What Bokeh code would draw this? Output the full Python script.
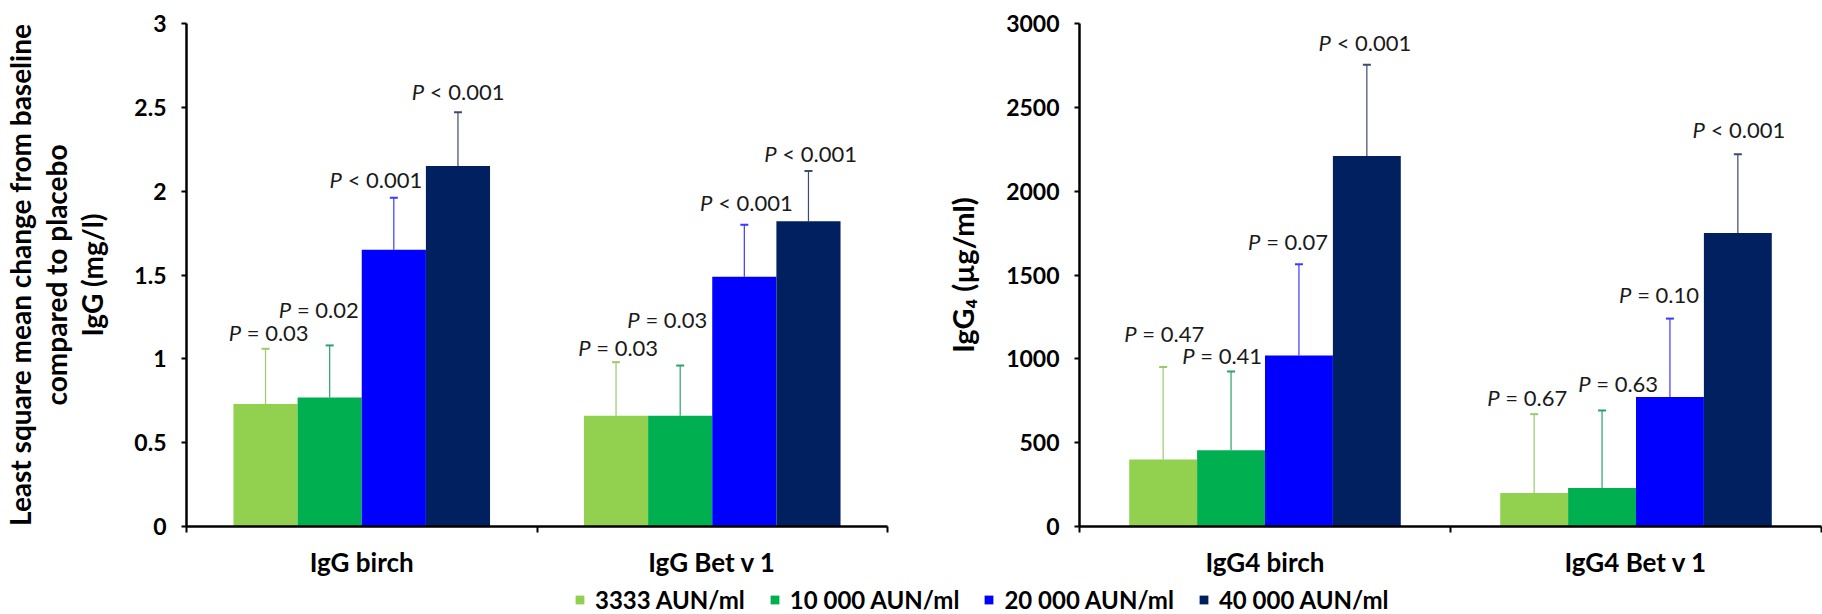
from bokeh.plotting import figure
from bokeh.models import (ColumnDataSource, Range1d, FixedTicker, Whisker, TeeHead,
                          Legend, LegendItem, NumeralTickFormatter, Title)
from bokeh.layouts import column, row
from bokeh.core.properties import value
from bokeh.embed import file_html
from bokeh.resources import INLINE

# ---------------- data ----------------
doses = ["3333 AUN/ml", "10 000 AUN/ml", "20 000 AUN/ml", "40 000 AUN/ml"]

igg_groups = ["IgG birch", "IgG Bet v 1"]
igg_mean_3333 = [0.73, 0.66]
igg_mean_10000 = [0.77, 0.66]
igg_mean_20000 = [1.65, 1.49]
igg_mean_40000 = [2.15, 1.82]
igg_upper_3333 = [1.06, 0.98]
igg_upper_10000 = [1.08, 0.96]
igg_upper_20000 = [1.96, 1.80]
igg_upper_40000 = [2.47, 2.12]
igg_p_3333 = ["= 0.03", "= 0.03"]
igg_p_10000 = ["= 0.02", "= 0.03"]
igg_p_20000 = ["< 0.001", "< 0.001"]
igg_p_40000 = ["< 0.001", "< 0.001"]

igg4_groups = ["IgG4 birch", "IgG4 Bet v 1"]
igg4_mean_3333 = [400, 200]
igg4_mean_10000 = [455, 230]
igg4_mean_20000 = [1020, 773]
igg4_mean_40000 = [2210, 1750]
igg4_upper_3333 = [951, 670]
igg4_upper_10000 = [925, 692]
igg4_upper_20000 = [1564, 1240]
igg4_upper_40000 = [2754, 2220]
igg4_p_3333 = ["= 0.47", "= 0.67"]
igg4_p_10000 = ["= 0.41", "= 0.63"]
igg4_p_20000 = ["= 0.07", "= 0.10"]
igg4_p_40000 = ["< 0.001", "< 0.001"]

igg_yticks = [0, 0.5, 1, 1.5, 2, 2.5, 3]
igg4_yticks = [0, 500, 1000, 1500, 2000, 2500, 3000]

igg_title_lines = ["Least square mean change from baseline", "compared to placebo", "IgG (mg/l)"]
igg4_title = "IgG\u2084 (\u00b5g/ml)"

# ---------------- styling / layout ----------------
FONT = "Lato"
colors = ["#92d050", "#00b050", "#0000ff", "#002060"]
err_colors = ["#9cc96b", "#2aa36a", "#3a3aff", "#3a4a70"]
BAR_W = 0.183
offsets = [-1.5 * BAR_W, -0.5 * BAR_W, 0.5 * BAR_W, 1.5 * BAR_W]
P_FS = 22
CHAR_W = {" ": 0.2, "=": 0.58, "<": 0.58, ".": 0.25}
P_W = 0.62 * P_FS
GAP = 0.26 * P_FS

# per-label nudges (dx px, dy px above error-bar top), [dose][group]
igg_nudge = [[(2, 16), (1, 15)], [(-12, 36), (-14, 46)], [(-19, 18), (1, 22)], [(-1, 21), (1, 18)]]
igg4_nudge = [[(0, 34), (-8, 17)], [(-10, 16), (15, 27)], [(-12, 23), (-12, 24)], [(-3, 22), (0, 25)]]


def text_w(s):
    return sum(CHAR_W.get(c, 0.58) for c in s) * P_FS


def make_chart(groups, means, uppers, pvals, nudges, ymax, yticks, ylabel, fmt,
               width, height, bl, br, bt, bb, label_standoff, label_fs):
    p = figure(width=width, height=height, x_range=Range1d(0, len(groups)),
               y_range=Range1d(0, ymax), output_backend="svg", toolbar_location=None,
               min_border_left=bl, min_border_right=br, min_border_top=bt,
               min_border_bottom=bb)
    p.outline_line_color = None
    p.grid.visible = False
    p.background_fill_color = "white"

    for i in range(len(doses)):
        xs = [g + 0.5 + offsets[i] for g in range(len(groups))]
        xo_p, xo_r, yo = [], [], []
        for g in range(len(groups)):
            dx, dy = nudges[i][g]
            total = P_W + GAP + text_w(pvals[i][g])
            b = dx - total / 2 + P_W
            xo_p.append(b)
            xo_r.append(b + GAP)
            yo.append(-dy)
        src = ColumnDataSource(dict(x=xs, top=means[i], up=uppers[i],
                                    pt=["P"] * len(groups), rest=pvals[i],
                                    xop=xo_p, xor=xo_r, yo=yo))
        p.vbar(x="x", top="top", bottom=0, width=BAR_W, source=src,
               fill_color=colors[i], line_color=None)
        p.add_layout(Whisker(source=src, base="x", lower="top", upper="up",
                             line_color=err_colors[i], line_width=1.2,
                             upper_head=TeeHead(size=8, line_color=err_colors[i], line_width=2),
                             lower_head=None))
        p.text(x="x", y="up", text="pt", source=src, text_font=value(FONT),
               text_font_style="italic", text_font_size=f"{P_FS}px", text_color="#1a1a1a",
               text_align="right", text_baseline="middle", x_offset="xop", y_offset="yo")
        p.text(x="x", y="up", text="rest", source=src, text_font=value(FONT),
               text_font_size=f"{P_FS}px", text_color="#1a1a1a",
               text_align="left", text_baseline="middle", x_offset="xor", y_offset="yo")

    yax = p.yaxis[0]
    yax.ticker = FixedTicker(ticks=yticks)
    yax.formatter = NumeralTickFormatter(format=fmt)
    yax.axis_line_width = 2.5
    yax.axis_line_color = "black"
    yax.major_tick_line_width = 2
    yax.major_tick_out = 5
    yax.major_tick_in = 0
    yax.minor_tick_line_color = None
    yax.major_label_text_font = FONT
    yax.major_label_text_font_style = "bold"
    yax.major_label_text_font_size = "23px"
    yax.major_label_text_color = "black"
    yax.major_label_standoff = 15
    yax.axis_label = ylabel
    yax.axis_label_text_font = FONT
    yax.axis_label_text_font_style = "bold"
    yax.axis_label_text_font_size = f"{label_fs}px"
    yax.axis_label_text_color = "black"
    yax.axis_label_standoff = label_standoff

    xax = p.xaxis[0]
    xax.ticker = FixedTicker(ticks=[g + 0.5 for g in range(len(groups))],
                             minor_ticks=list(range(len(groups) + 1)))
    xax.major_label_overrides = {g + 0.5: groups[g] for g in range(len(groups))}
    xax.axis_line_width = 2.5
    xax.axis_line_color = "black"
    xax.major_tick_line_color = None
    xax.major_tick_out = 0
    xax.major_tick_in = 0
    xax.minor_tick_line_width = 2
    xax.minor_tick_line_color = "black"
    xax.minor_tick_out = 6
    xax.minor_tick_in = 0
    xax.major_label_text_font = FONT
    xax.major_label_text_font_style = "bold"
    xax.major_label_text_font_size = "26px"
    xax.major_label_text_color = "black"
    xax.major_label_standoff = 13
    return p


igg_means = [igg_mean_3333, igg_mean_10000, igg_mean_20000, igg_mean_40000]
igg_uppers = [igg_upper_3333, igg_upper_10000, igg_upper_20000, igg_upper_40000]
igg_ps = [igg_p_3333, igg_p_10000, igg_p_20000, igg_p_40000]
igg4_means = [igg4_mean_3333, igg4_mean_10000, igg4_mean_20000, igg4_mean_40000]
igg4_uppers = [igg4_upper_3333, igg4_upper_10000, igg4_upper_20000, igg4_upper_40000]
igg4_ps = [igg4_p_3333, igg4_p_10000, igg4_p_20000, igg4_p_40000]

H = 580
TITLE_FS = 28
p1 = make_chart(igg_groups, igg_means, igg_uppers, igg_ps, igg_nudge, 3, igg_yticks,
                igg_title_lines[2], "0.[0]", 930, H, 182, 43, 19, 54, 22, TITLE_FS)
for line, so in [(igg_title_lines[1], 0), (igg_title_lines[0], 0)]:
    p1.add_layout(Title(text=line, align="center", text_font=FONT,
                        text_font_size=f"{TITLE_FS}px", text_font_style="bold",
                        text_color="black", standoff=so), "left")

p2 = make_chart(igg4_groups, igg4_means, igg4_uppers, igg4_ps, igg4_nudge, 3000, igg4_yticks,
                igg4_title, "0", 892, H, 149, 1, 23, 48, 23, 29)

pl = figure(width=1822, height=614 - H, output_backend="svg", toolbar_location=None,
            x_range=Range1d(0, 1), y_range=Range1d(0, 1), min_border=0,
            x_axis_type=None, y_axis_type=None)
pl.outline_line_color = None
pl.grid.visible = False
items = []
for dose, col in zip(doses, colors):
    r = pl.vbar(x=[float("nan")], top=[float("nan")], width=0.1, fill_color=col, line_color=None)
    items.append(LegendItem(label=dose, renderers=[r]))
leg = Legend(items=items, orientation="horizontal", location=(574, 0),
             glyph_width=11, glyph_height=11, label_standoff=10, spacing=24,
             padding=0, margin=0, border_line_color=None, background_fill_alpha=0,
             label_text_font=FONT, label_text_font_style="bold",
             label_text_font_size="24px", label_text_color="black")
pl.add_layout(leg)

layout = column(row(p1, p2), pl)
open("out.html", "w").write(file_html(layout, INLINE))
